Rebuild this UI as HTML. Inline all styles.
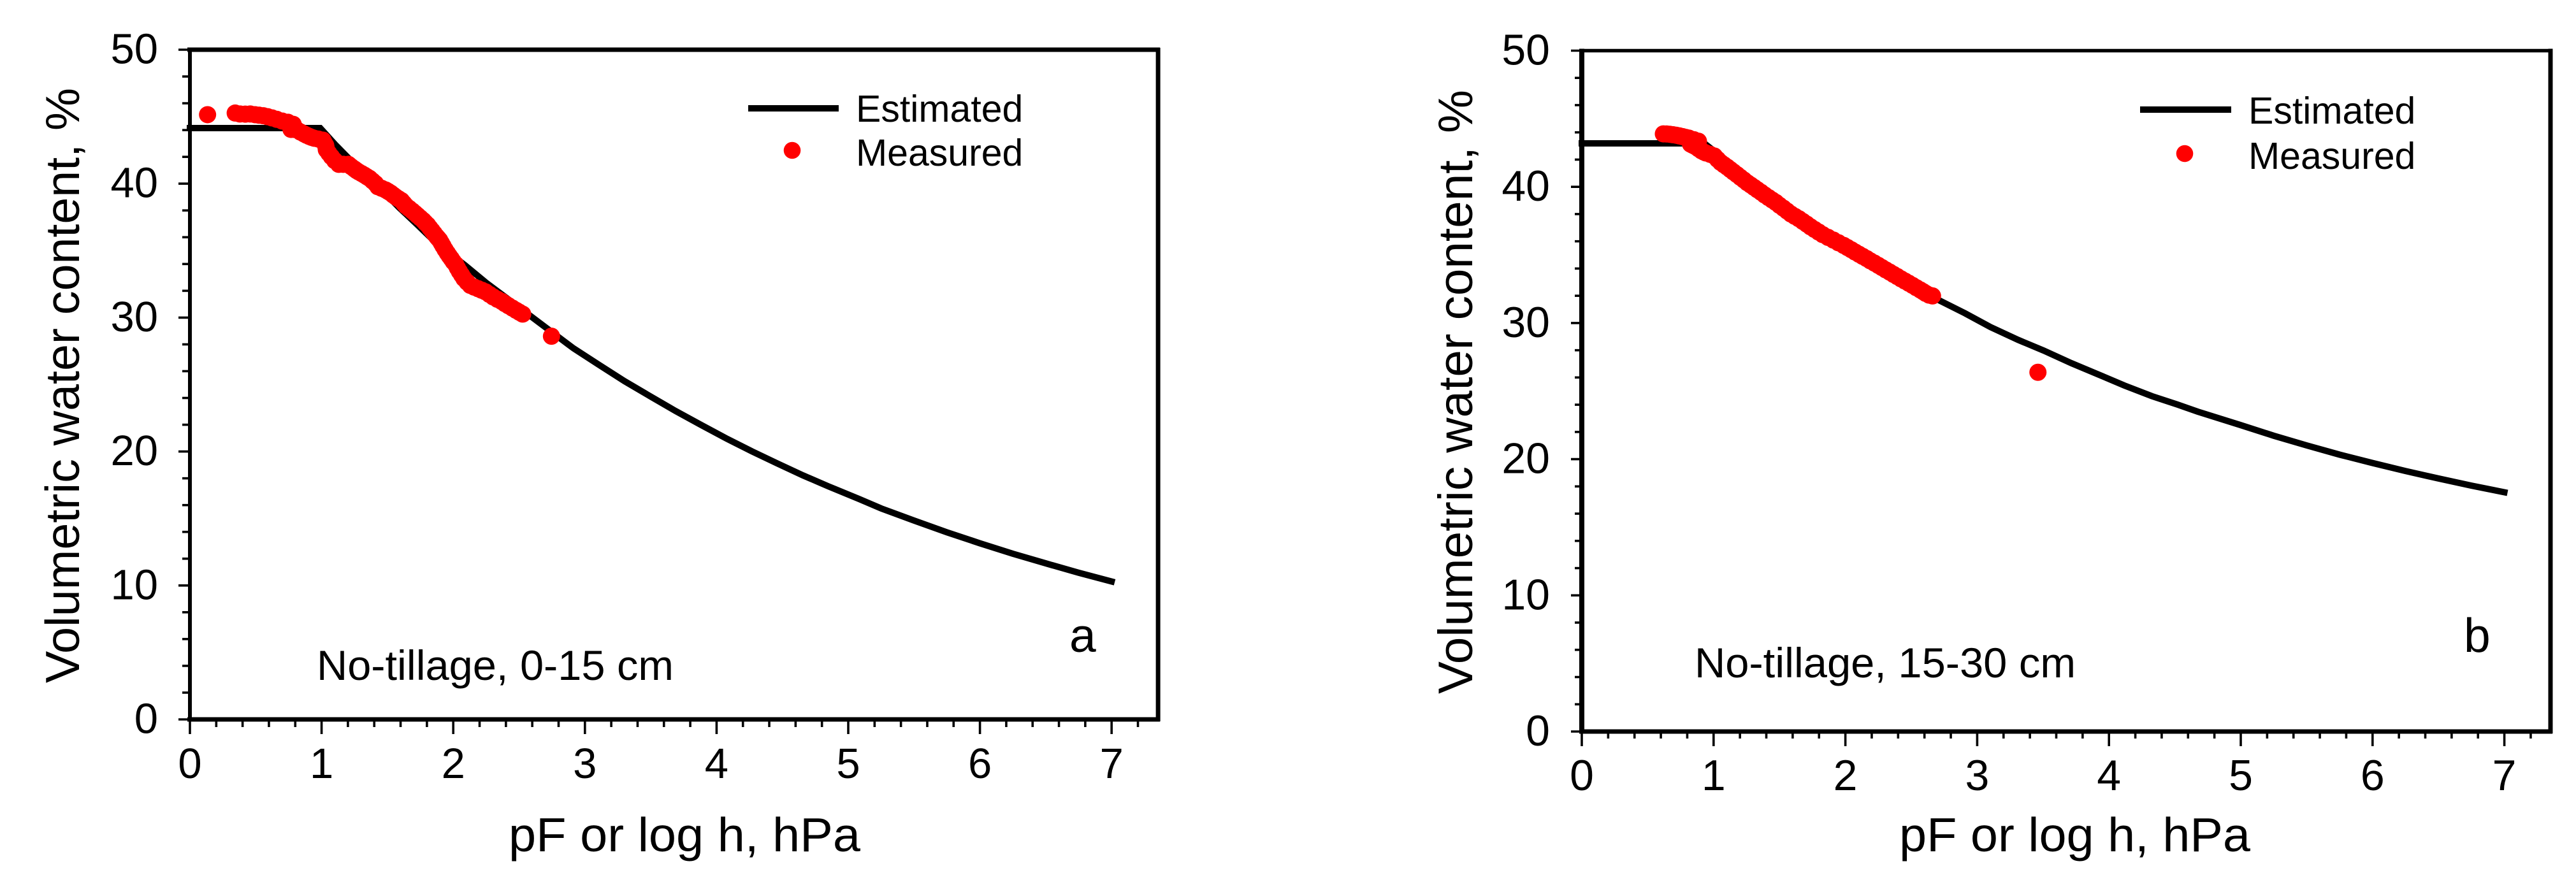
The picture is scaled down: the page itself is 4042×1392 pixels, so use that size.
<!DOCTYPE html>
<html lang="en">
<head>
<meta charset="utf-8">
<title>Water retention curves</title>
<style>
html,body{margin:0;padding:0;background:#fff;}
svg{display:block;}
text{font-family:"Liberation Sans",Arial,sans-serif;fill:#000;}
</style>
</head>
<body>
<svg id="figure" xmlns="http://www.w3.org/2000/svg" width="4042" height="1392" viewBox="0 0 4042 1392">
  <rect x="0" y="0" width="4042" height="1392" fill="#fff"/>
  <g id="panel-a"></g>
  <g id="panel-b"></g>

  <text transform="translate(124,1072) rotate(-90)" font-size="75" textLength="934" lengthAdjust="spacingAndGlyphs">Volumetric water content, %</text>
  <text x="798" y="1336" font-size="75" textLength="552" lengthAdjust="spacingAndGlyphs">pF or log h, hPa</text>
  <text x="497" y="1067" font-size="66" textLength="560" lengthAdjust="spacingAndGlyphs">No-tillage, 0-15 cm</text>
  <text x="1678" y="1023" font-size="75">a</text>
  <line x1="1174" y1="170" x2="1316" y2="170" stroke="#000" stroke-width="10"/>
  <circle cx="1243" cy="236" r="13.3" fill="#f00"/>
  <text x="1343" y="191" font-size="59">Estimated</text>
  <text x="1343" y="260" font-size="59">Measured</text>

  <text transform="translate(2310,1089) rotate(-90)" font-size="76" textLength="948" lengthAdjust="spacingAndGlyphs">Volumetric water content, %</text>
  <text x="2980" y="1336" font-size="75" textLength="551" lengthAdjust="spacingAndGlyphs">pF or log h, hPa</text>
  <text x="2659" y="1063" font-size="66" textLength="598" lengthAdjust="spacingAndGlyphs">No-tillage, 15-30 cm</text>
  <text x="3866" y="1023" font-size="75">b</text>
  <line x1="3358" y1="172" x2="3501" y2="172" stroke="#000" stroke-width="10"/>
  <circle cx="3428" cy="241" r="13.3" fill="#f00"/>
  <text x="3528" y="194" font-size="59">Estimated</text>
  <text x="3528" y="265" font-size="59">Measured</text>
</svg>

<script>
const xTickLabels = ['0','1','2','3','4','5','6','7'];
const yTickLabels = ['0','10','20','30','40','50'];

const estimatedPfA = [0,0.99,1.11,1.24,1.42,1.59,1.72,1.83,1.96,2.09,2.25,2.42,2.67,2.914,3.107,3.301,3.495,3.688,3.882,4.075,4.269,4.463,4.656,4.85,5.084,5.25,5.5,5.75,6,6.25,6.5,6.75,7];
const estimatedThetaA = [44.15,44.15,42.85,41.55,39.9,38.2,37.0,35.95,34.9,33.9,32.6,31.35,29.5,27.7,26.47,25.25,24.13,23.03,21.99,20.97,20.01,19.1,18.22,17.4,16.45,15.75,14.85,13.97,13.15,12.37,11.65,10.95,10.3];

const measuredPfA = [0.134,0.344,0.38,0.421,0.458,0.494,0.525,0.557,0.59,0.623,0.66,0.702,0.745,0.784,0.768,0.79,0.813,0.84,0.865,0.885,0.905,0.925,0.944,0.975,1.01,1.02,1.031,1.034,1.036,1.055,1.075,1.1,1.131,1.165,1.204,1.225,1.249,1.265,1.283,1.305,1.326,1.345,1.365,1.387,1.409,1.428,1.457,1.486,1.505,1.525,1.544,1.563,1.585,1.607,1.624,1.641,1.665,1.689,1.708,1.728,1.75,1.772,1.788,1.805,1.822,1.839,1.856,1.873,1.885,1.897,1.91,1.922,1.938,1.955,1.97,1.985,2.0,2.018,2.032,2.047,2.064,2.081,2.105,2.13,2.158,2.188,2.217,2.246,2.275,2.304,2.335,2.367,2.393,2.42,2.449,2.478,2.502,2.527,2.746];
const measuredThetaA = [45.15,45.27,45.2,45.19,45.2,45.15,45.11,45.07,45.0,44.91,44.8,44.67,44.58,44.43,44.05,44.05,44.01,43.85,43.72,43.62,43.53,43.45,43.39,43.33,43.25,43.05,42.86,42.7,42.53,42.27,42.01,41.72,41.44,41.44,41.44,41.27,41.1,40.98,40.87,40.75,40.63,40.51,40.39,40.2,40.01,39.77,39.65,39.53,39.42,39.3,39.15,39.01,38.87,38.73,38.53,38.34,38.15,37.96,37.8,37.63,37.44,37.25,37.08,36.92,36.7,36.49,36.27,36.06,35.92,35.78,35.56,35.35,35.08,34.82,34.6,34.4,34.18,33.97,33.7,33.44,33.18,32.92,32.65,32.4,32.28,32.16,32.04,31.92,31.73,31.54,31.37,31.21,31.04,30.88,30.71,30.54,30.4,30.26,28.61];

const estimatedPfB = [0,0.93,1.1,1.3,1.5,1.7,2,2.3,2.6,2.714,2.908,3.101,3.311,3.504,3.714,3.907,4.117,4.326,4.52,4.673,5,5.25,5.5,5.75,6,6.25,6.5,6.75,7];
const estimatedThetaB = [43.19,43.19,41.9,40.2,38.7,37.3,35.6,34,32.4,31.65,30.71,29.7,28.76,27.98,27.05,26.27,25.41,24.63,24.01,23.49,22.5,21.72,21.01,20.33,19.72,19.13,18.58,18.06,17.57];

const measuredPfB = [0.619,0.643,0.667,0.69,0.716,0.74,0.764,0.788,0.812,0.85,0.885,0.825,0.843,0.861,0.885,0.909,0.925,0.941,0.975,1.006,1.03,1.054,1.078,1.103,1.127,1.151,1.177,1.203,1.23,1.256,1.282,1.307,1.333,1.36,1.388,1.417,1.445,1.473,1.5,1.53,1.558,1.586,1.617,1.647,1.677,1.707,1.736,1.766,1.797,1.828,1.868,1.909,1.948,1.987,2.016,2.045,2.074,2.103,2.132,2.162,2.19,2.22,2.25,2.278,2.307,2.336,2.365,2.394,2.423,2.452,2.481,2.51,2.539,2.568,2.59,2.611,2.636,2.661,3.461];
const measuredThetaB = [43.89,43.88,43.86,43.83,43.79,43.74,43.69,43.63,43.58,43.46,43.35,43.14,43.05,42.96,42.8,42.64,42.56,42.49,42.38,42.26,42.02,41.79,41.62,41.45,41.27,41.09,40.9,40.7,40.5,40.3,40.13,39.96,39.78,39.6,39.4,39.21,39.03,38.85,38.64,38.43,38.22,38.01,37.83,37.66,37.46,37.26,37.06,36.87,36.68,36.49,36.29,36.09,35.89,35.7,35.54,35.38,35.21,35.05,34.89,34.73,34.56,34.4,34.23,34.07,33.9,33.74,33.57,33.41,33.24,33.08,32.92,32.76,32.59,32.43,32.3,32.17,32.05,31.99,26.38];

const NS = 'http://www.w3.org/2000/svg';

function make(parent, tag, attrs) {
  const el = document.createElementNS(NS, tag);
  for (const k in attrs) el.setAttribute(k, attrs[k]);
  parent.appendChild(el);
  return el;
}

function drawPanel(host, opt) {
  const sx = v => opt.x0 + opt.xUnit * v;
  const sy = v => opt.y0 - opt.yUnit * v;
  const left = sx(0), bottom = sy(0), top = sy(50), right = sx(opt.xMax);

  // y ticks
  for (let v = 0; v <= 50; v += 2) {
    const major = v % 10 === 0;
    const tick = make(host, 'line', {x1: left - (major ? opt.yMajor : opt.yMinor), x2: left, y1: sy(v), y2: sy(v), stroke: '#000', 'stroke-width': 3.6});
    
    
  }
  // x ticks
  for (let i = 0; i <= 36; i++) {
    const major = i % 5 === 0;
    const v = i / 5;
    const tick = make(host, 'line', {x1: sx(v), x2: sx(v), y1: bottom, y2: bottom + (major ? opt.xMajor : opt.xMinor), stroke: '#000', 'stroke-width': 3.6});
    
    
  }
  // tick labels
  yTickLabels.forEach(label => {
    const t = make(host, 'text', {x: opt.yLabelX, y: sy(Number(label)) + opt.yLabelDy, 'font-size': opt.tickFont, 'text-anchor': 'end'});
    
    
    t.textContent = label;
  });
  xTickLabels.forEach(label => {
    const t = make(host, 'text', {x: sx(Number(label)), y: opt.xLabelY, 'font-size': opt.tickFont, 'text-anchor': 'middle'});
    
    
    t.textContent = label;
  });

  // frame
  const edges = [
    ['axis-left', left, top - 3, left, bottom + 3, opt.wLeft],
    ['axis-bottom', left - 4, bottom, right + 3, bottom, opt.wBottom],
    ['frame-top', left - 4, top, right + 3, top, opt.wTop],
    ['frame-right', right, top - 3, right, bottom + 3, opt.wRight]
  ];
  edges.forEach(e => {
    const l = make(host, 'line', {x1: e[1], y1: e[2], x2: e[3], y2: e[4], stroke: '#000', 'stroke-width': e[5]});
    
    
  });

  // estimated curve
  const pts = opt.pf.map((p, i) => sx(p).toFixed(1) + ',' + sy(opt.theta[i]).toFixed(1)).join(' ');
  const curve = make(host, 'polyline', {points: pts, fill: 'none', stroke: '#000', 'stroke-width': 10, 'stroke-linecap': 'square', 'stroke-linejoin': 'miter'});
  
  

  // measured points
  opt.mPf.forEach((p, i) => {
    const c = make(host, 'circle', {cx: sx(p), cy: sy(opt.mTheta[i]), r: 13.5, fill: '#f00'});
    
    
  });
}

drawPanel(document.getElementById('panel-a'), {
  x0: 298, xUnit: 206.6, xMax: 7.353, y0: 1129, yUnit: 21.02,
  yMajor: 18, yMinor: 12, xMajor: 23, xMinor: 12,
  yLabelX: 248, yLabelDy: 21.5, xLabelY: 1221, tickFont: 67,
  wLeft: 6, wBottom: 7, wTop: 7, wRight: 7,
  pf: estimatedPfA, theta: estimatedThetaA, mPf: measuredPfA, mTheta: measuredThetaA
});

drawPanel(document.getElementById('panel-b'), {
  x0: 2482, xUnit: 206.8, xMax: 7.35, y0: 1148, yUnit: 21.37,
  yMajor: 17, yMinor: 11, xMajor: 23, xMinor: 11,
  yLabelX: 2432, yLabelDy: 22, xLabelY: 1240, tickFont: 68,
  wLeft: 8, wBottom: 7, wTop: 5.5, wRight: 7,
  pf: estimatedPfB, theta: estimatedThetaB, mPf: measuredPfB, mTheta: measuredThetaB
});
</script>
</body>
</html>
